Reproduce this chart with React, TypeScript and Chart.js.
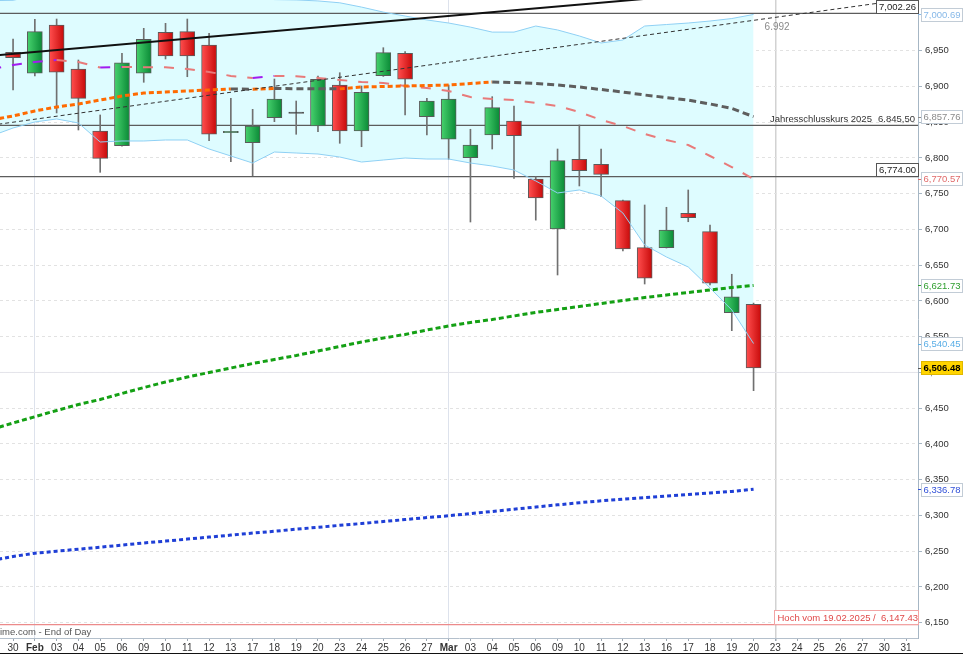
import React, { useEffect, useRef } from 'react';
import { Chart, registerables } from 'chart.js';

Chart.register(...registerables);

const FONT = '"Liberation Sans", Arial, Helvetica, sans-serif';

// ---- axis labels ----
const X_LABELS = ['30', 'Feb', '03', '04', '05', '06', '09', '10', '11', '12', '13', '17', '18', '19', '20', '23', '24', '25', '26', '27', 'Mar', '03', '04', '05', '06', '09', '10', '11', '12', '13', '16', '17', '18', '19', '20', '23', '24', '25', '26', '27', '30', '31'];
const MONTH_STARTS = ['Feb', 'Mar'];
const Y_TICKS = [6150, 6200, 6250, 6300, 6350, 6400, 6450, 6500, 6550, 6600, 6650, 6700, 6750, 6800, 6850, 6900, 6950];

// ---- daily candles (30 Jan .. 20 Mar) ----
const OPEN = [6947.8, 6918.4, 6985.9, 6924.4, 6837.7, 6817.1, 6918.4, 6975.7, 6976.6, 6958.0, 6835.3, 6821.3, 6856.3, 6862.2, 6844.7, 6902.0, 6837.7, 6915.0, 6946.4, 6857.7, 6826.1, 6800.4, 6832.1, 6851.7, 6770.6, 6700.6, 6798.1, 6791.1, 6740.2, 6674.5, 6674.5, 6722.6, 6696.9, 6583.6, 6595.3];
const HIGH = [6966.4, 6993.9, 6994.3, 6937.0, 6860.1, 6946.4, 6981.3, 6988.3, 6994.3, 6974.3, 6883.4, 6868.0, 6910.4, 6879.6, 6914.6, 6919.2, 6900.6, 6954.2, 6948.6, 6883.4, 6902.0, 6840.1, 6885.7, 6872.7, 6773.8, 6812.5, 6846.1, 6812.5, 6741.2, 6734.2, 6731.0, 6755.2, 6706.2, 6637.3, 6597.0];
const LOW = [6895.0, 6914.6, 6862.9, 6839.1, 6779.9, 6816.5, 6905.8, 6938.4, 6913.6, 6824.1, 6794.8, 6775.2, 6850.7, 6833.1, 6836.7, 6820.5, 6815.7, 6914.0, 6860.1, 6832.1, 6798.1, 6710.4, 6812.5, 6771.5, 6713.0, 6636.3, 6760.8, 6745.8, 6670.0, 6623.7, 6674.0, 6710.8, 6622.3, 6558.4, 6474.5];
const CLOSE = [6940.2, 6976.6, 6919.8, 6883.4, 6799.5, 6933.2, 6965.9, 6942.6, 6942.6, 6833.1, 6836.7, 6844.7, 6882.4, 6862.8, 6910.0, 6837.7, 6891.8, 6947.2, 6910.0, 6879.6, 6882.4, 6818.1, 6870.3, 6831.1, 6744.0, 6796.2, 6782.2, 6777.1, 6672.7, 6631.7, 6699.2, 6716.4, 6624.7, 6605.9, 6506.48];

// ---- indicators: first value is the session before 30 Jan (index -1) ----
const IND_START = -1;
const BB_UPPER = [7020, 7020.5, 7027, 7032, 7030, 7033, 7032, 7031, 7030, 7028, 7029, 7028, 7026, 7021.5, 7021, 7019.6, 7017, 7011, 7004, 6998.5, 6993, 6988.7, 6983, 6976, 6976, 6984.5, 6979, 6970.6, 6960.8, 6965, 6984.5, 6986.6, 6988.7, 6991.5, 6995, 7000.69];
const BB_LOWER = [6830.7, 6841.9, 6850.3, 6854.5, 6848.9, 6822.3, 6823.7, 6823.7, 6825.1, 6825.1, 6812.5, 6802.7, 6792.9, 6808.3, 6806.9, 6805.5, 6801.3, 6794.3, 6797.1, 6799.9, 6798.5, 6798.5, 6792.9, 6788.7, 6783.1, 6767.8, 6751.0, 6755.2, 6746.8, 6723.0, 6678.3, 6661.5, 6647.5, 6618.1, 6587.4, 6540.45];
const MA20 = [6924.4, 6930, 6934.2, 6937, 6934.2, 6926.5, 6927.2, 6927.0, 6926.8, 6924.4, 6920.3, 6914.7, 6911.9, 6914.7, 6914.2, 6911.9, 6909.1, 6906.3, 6904.9, 6900.7, 6897.9, 6893.6, 6885.2, 6882.4, 6881, 6876.9, 6872.7, 6864.3, 6853.1, 6844.7, 6833.5, 6825.1, 6818.1, 6802.7, 6787.3, 6770.57];
const MA50 = [6853.1, 6858.7, 6865.7, 6871.3, 6875.5, 6881, 6886.6, 6890.8, 6892.2, 6893.6, 6895, 6896.4, 6896.2, 6897.1, 6896.9, 6896.7, 6896.6, 6899.2, 6899.9, 6900.6, 6901.3, 6902, 6904.1, 6906.2, 6905.5, 6904.1, 6902, 6899.2, 6895.7, 6892.2, 6888, 6884.5, 6881, 6875.5, 6869.2, 6857.76];
const MA100 = [6420.2, 6429.3, 6438.1, 6446.8, 6455.2, 6462.2, 6470.6, 6478.9, 6486.6, 6493.6, 6499.9, 6506.2, 6512.5, 6518.1, 6523.7, 6530, 6536.3, 6542.6, 6548.2, 6553.1, 6559.4, 6565, 6569.9, 6574.1, 6579, 6583.9, 6588.1, 6592.2, 6596.4, 6600.6, 6604.8, 6608.3, 6611.8, 6615.3, 6618.8, 6621.73];
const MA200 = [6237, 6242.6, 6247.1, 6250, 6252.8, 6255.6, 6258.5, 6261.5, 6264.1, 6266.9, 6269.7, 6272.5, 6275.3, 6277.9, 6280.8, 6283.4, 6286.2, 6288.7, 6291.5, 6294.2, 6297, 6299.6, 6302.6, 6305.6, 6308.7, 6311.8, 6314.8, 6317.8, 6320.5, 6322.7, 6324.8, 6327.1, 6329.3, 6331.5, 6333.6, 6336.78];

// ---- trend lines (x = session index) ----
const TREND_SOLID_X = [-1, 30];
const TREND_SOLID_Y = [6942.9, 7025.1];
const TREND_DASH_X = [-1, 39.62];
const TREND_DASH_Y = [6845.8, 7016.0];

// ---- horizontal levels ----
const LEVEL_TOP = 7002.26;
const YEAR_CLOSE = 6845.5;
const LEVEL_MID = 6774.0;
const HIGH_2025 = 6147.43;
const ROUND_LEVEL = 6500;
const YEAR_CLOSE_LABEL = 'Jahresschlusskurs 2025';
const HIGH_LABEL = 'Hoch vom 19.02.2025';
const SOURCE_LABEL = 'ime.com - End of Day';

const X_MIN = -0.6;
const X_MAX = 41.55;
const Y_MIN = 6128.6;
const Y_MAX = 7020.9;

const en2 = (v: number) => v.toLocaleString('en-US', { minimumFractionDigits: 2, maximumFractionDigits: 2 });
const de2 = (v: number) => v.toLocaleString('de-DE', { minimumFractionDigits: 2, maximumFractionDigits: 2 });
const last = (a: number[]) => a[a.length - 1];

const series = (arr: number[]) => arr.map((v, k) => ({ x: k + IND_START, y: v }));
const pairs = (xs: number[], ys: number[]) => xs.map((x, k) => ({ x, y: ys[k] }));
const hline = (v: number) => [{ x: -1, y: v }, { x: 42, y: v }];

const bodyFill = (c: any) => {
  const i = c.dataIndex;
  if (i == null || i >= OPEN.length) return '#888';
  const o = OPEN[i], cl = CLOSE[i];
  const up = cl >= o;
  if (Math.abs(cl - o) < 1) return '#333';
  const sx = c.chart && c.chart.scales ? c.chart.scales.x : null;
  const px = sx ? sx.getPixelForValue(i) : NaN;
  if (!Number.isFinite(px)) return up ? '#22b04c' : '#e2201e';
  const g = c.chart.ctx.createLinearGradient(px - 7, 0, px + 7, 0);
  if (up) {
    g.addColorStop(0, '#45d06c');
    g.addColorStop(1, '#0c8c38');
  } else {
    g.addColorStop(0, '#ff4d4d');
    g.addColorStop(1, '#c90c0c');
  }
  return g;
};

const overlay = {
  id: 'overlay',
  afterDraw(chart: any) {
    const { ctx, chartArea: ca } = chart;
    const ys = chart.scales.y;
    const xs = chart.scales.x;
    const f = (size: number, bold = false) => `${bold ? 'bold ' : ''}${size}px ${FONT}`;
    ctx.save();

    const levelBox = (value: number) => {
      const py = ys.getPixelForValue(value);
      const w = 42, h = 13;
      const x0 = Math.round(ca.right - w) + 0.5;
      const y0 = Math.round(py - h - 0.5) + 0.5;
      ctx.fillStyle = '#fff';
      ctx.fillRect(x0, y0, w, h);
      ctx.strokeStyle = '#555';
      ctx.lineWidth = 1;
      ctx.strokeRect(x0, y0, w, h);
      ctx.fillStyle = '#222';
      ctx.font = f(9.5);
      ctx.textAlign = 'center';
      ctx.textBaseline = 'middle';
      ctx.fillText(en2(value), x0 + w / 2, y0 + h / 2 + 0.5);
    };
    levelBox(LEVEL_TOP);
    levelBox(LEVEL_MID);

    const pyY = ys.getPixelForValue(YEAR_CLOSE);
    ctx.font = f(9.5);
    ctx.fillStyle = '#333';
    ctx.textBaseline = 'alphabetic';
    ctx.textAlign = 'left';
    ctx.fillText(YEAR_CLOSE_LABEL, ca.right - 148, pyY - 3);
    ctx.textAlign = 'right';
    ctx.fillText(de2(YEAR_CLOSE), ca.right - 3, pyY - 3);

    const lastIdx = OPEN.length - 1;
    const t = (lastIdx - TREND_DASH_X[0]) / (TREND_DASH_X[1] - TREND_DASH_X[0]);
    const tv = TREND_DASH_Y[0] + t * (TREND_DASH_Y[1] - TREND_DASH_Y[0]);
    ctx.fillStyle = '#8a8a8a';
    ctx.textAlign = 'left';
    ctx.font = f(10);
    ctx.fillText(Math.round(tv).toLocaleString('de-DE'), xs.getPixelForValue(lastIdx) + 11, ys.getPixelForValue(tv) + 10);

    const pyH = ys.getPixelForValue(HIGH_2025);
    {
      const w = 144, h = 14;
      const x0 = Math.round(ca.right - w) + 0.5;
      const y0 = Math.round(pyH - h - 0.5) + 0.5;
      ctx.fillStyle = '#fff';
      ctx.fillRect(x0, y0, w, h);
      ctx.strokeStyle = '#f2a4a4';
      ctx.strokeRect(x0, y0, w, h);
      ctx.fillStyle = '#e04848';
      ctx.font = f(9.5);
      ctx.textBaseline = 'middle';
      ctx.textAlign = 'left';
      ctx.fillText(`${HIGH_LABEL} /  ${en2(HIGH_2025)}`, x0 + 3, y0 + h / 2 + 0.5);
    }

    ctx.fillStyle = '#555';
    ctx.font = f(9.5);
    ctx.textAlign = 'left';
    ctx.textBaseline = 'alphabetic';
    ctx.fillText(SOURCE_LABEL, 0, ca.bottom - 3);

    const tags = [
      { v: last(BB_UPPER), color: '#86b8e8' },
      { v: last(MA50), color: '#8a8a8a' },
      { v: last(MA20), color: '#e06a6a' },
      { v: last(MA100), color: '#2e9e2e' },
      { v: last(BB_LOWER), color: '#5aaee6' },
      { v: last(MA200), color: '#3050d8' },
      { v: last(CLOSE), color: '#000', bg: '#ffd400', border: '#e0b800', bold: true },
    ];
    for (const tg of tags as any[]) {
      const py = ys.getPixelForValue(tg.v);
      const w = 41, h = 13;
      const x0 = Math.round(ca.right + 3) + 0.5;
      const y0 = Math.round(py - h / 2) + 0.5;
      ctx.fillStyle = tg.bg || '#fff';
      ctx.fillRect(x0, y0, w, h);
      ctx.strokeStyle = tg.border || '#c2ccd6';
      ctx.lineWidth = 1;
      ctx.strokeRect(x0, y0, w, h);
      ctx.strokeStyle = tg.color === '#000' ? '#555' : tg.color;
      ctx.beginPath();
      ctx.moveTo(ca.right, Math.round(py) + 0.5);
      ctx.lineTo(ca.right + 3, Math.round(py) + 0.5);
      ctx.stroke();
      ctx.fillStyle = tg.color;
      ctx.font = f(9.5, !!tg.bold);
      ctx.textAlign = 'left';
      ctx.textBaseline = 'middle';
      ctx.fillText(en2(tg.v), x0 + 2, y0 + h / 2 + 0.5);
    }

    ctx.fillStyle = '#111';
    ctx.fillRect(0, chart.height - 1, chart.width, 1);
    ctx.restore();
  },
};

export default function App() {
  const ref = useRef<HTMLCanvasElement>(null);

  useEffect(() => {
    document.body.style.margin = '0';
    const canvas = ref.current;
    if (!canvas) return;

    const candleX = OPEN.map((_, i) => i);

    const chart = new Chart(canvas, {
      type: 'bar',
      data: {
        datasets: [
          {
            type: 'line', data: series(BB_UPPER), borderColor: '#8fd0f4', borderWidth: 1,
            pointRadius: 0, fill: { target: 1 }, backgroundColor: 'rgba(222,252,255,1)', order: 3,
          } as any,
          {
            type: 'line', data: series(BB_LOWER), borderColor: '#8fd0f4', borderWidth: 1,
            pointRadius: 0, fill: false, order: 3,
          } as any,
          { type: 'line', data: hline(ROUND_LEVEL), borderColor: '#e4e4ea', borderWidth: 1, pointRadius: 0, order: 10 } as any,
          { type: 'line', data: hline(LEVEL_TOP), borderColor: '#5c5c5c', borderWidth: 1.2, pointRadius: 0, order: 9 } as any,
          { type: 'line', data: hline(YEAR_CLOSE), borderColor: '#5c5c5c', borderWidth: 1.2, pointRadius: 0, order: 9 } as any,
          { type: 'line', data: hline(LEVEL_MID), borderColor: '#5c5c5c', borderWidth: 1.2, pointRadius: 0, order: 9 } as any,
          { type: 'line', data: hline(HIGH_2025), borderColor: '#ec8a8a', borderWidth: 1.2, pointRadius: 0, order: 9 } as any,
          {
            type: 'bar', data: candleX.map((i) => ({ x: i, y: [LOW[i], HIGH[i]] })),
            backgroundColor: '#707070', borderWidth: 0, barThickness: 1, grouped: false, order: 8,
          } as any,
          {
            type: 'bar', data: candleX.map((i) => ({ x: i, y: [OPEN[i], CLOSE[i]] })),
            backgroundColor: bodyFill, borderColor: '#5a5a5a', borderWidth: 1, borderSkipped: false,
            barThickness: 15, grouped: false, minBarLength: 1.5, order: 7,
          } as any,
          {
            type: 'line', data: series(MA200), borderColor: '#1f3fd6', borderWidth: 3, borderDash: [4, 3],
            pointRadius: 0, order: 2,
          } as any,
          {
            type: 'line', data: series(MA100), borderColor: '#14a014', borderWidth: 3, borderDash: [5, 3],
            pointRadius: 0, order: 2,
          } as any,
          {
            type: 'line', data: series(MA50), borderColor: '#ff6a00', borderWidth: 3, borderDash: [5, 3],
            pointRadius: 0, order: 1,
            segment: {
              borderColor: (s: any) => (s.p1.parsed.y > s.p0.parsed.y ? '#ff6a00' : '#5e5e5e'),
              borderDash: (s: any) => (s.p1.parsed.y > s.p0.parsed.y ? [5, 3] : [7, 4]),
            },
          } as any,
          {
            type: 'line', data: series(MA20), borderColor: '#e87a7a', borderWidth: 2, borderDash: [10, 11],
            pointRadius: 0, order: 1,
            segment: {
              borderColor: (s: any) => (s.p1.parsed.y > s.p0.parsed.y ? '#a21cf0' : '#e87a7a'),
            },
          } as any,
          {
            type: 'line', data: pairs(TREND_SOLID_X, TREND_SOLID_Y), borderColor: '#111', borderWidth: 2,
            pointRadius: 0, order: 0,
          } as any,
          {
            type: 'line', data: pairs(TREND_DASH_X, TREND_DASH_Y), borderColor: '#333', borderWidth: 1,
            borderDash: [4, 3], pointRadius: 0, order: 0,
          } as any,
        ],
      },
      options: {
        responsive: false,
        animation: false,
        devicePixelRatio: 1,
        events: [],
        layout: { padding: 0 },
        plugins: {
          legend: { display: false },
          tooltip: { enabled: false },
          filler: { drawTime: 'beforeDatasetsDraw' },
        } as any,
        scales: {
          x: {
            type: 'linear',
            min: X_MIN,
            max: X_MAX,
            offset: false,
            afterBuildTicks: (scale: any) => {
              scale.ticks = X_LABELS.map((_, i) => ({ value: i }));
            },
            afterFit: (scale: any) => {
              scale.height = 16;
              scale.paddingLeft = 0;
              scale.paddingRight = 0;
            },
            grid: {
              offset: false,
              drawOnChartArea: true,
              color: (c: any) => {
                const v = c.tick ? c.tick.value : -1;
                if (MONTH_STARTS.includes(X_LABELS[v])) return '#dde2ec';
                if (v === OPEN.length) return '#d2d2d2';
                return 'rgba(0,0,0,0)';
              },
              lineWidth: (c: any) => (c.tick && c.tick.value === OPEN.length ? 1.5 : 1),
              tickColor: '#9aa4ae',
              tickLength: 3,
            },
            border: { display: true, color: '#b4c0cc' },
            ticks: {
              autoSkip: false,
              maxRotation: 0,
              minRotation: 0,
              padding: 1,
              color: '#333',
              font: (c: any) => ({
                family: FONT,
                size: 10,
                weight: c.tick && MONTH_STARTS.includes(X_LABELS[c.tick.value]) ? 'bold' : 'normal',
              }),
              callback: (v: any) => X_LABELS[v] ?? '',
            },
          },
          y: {
            type: 'linear',
            position: 'right',
            min: Y_MIN,
            max: Y_MAX,
            afterBuildTicks: (scale: any) => {
              scale.ticks = Y_TICKS.map((v) => ({ value: v }));
            },
            afterFit: (scale: any) => {
              scale.width = 45;
              scale.paddingTop = 0;
              scale.paddingBottom = 0;
            },
            grid: { color: '#e2e2e2', tickColor: '#a6b6c4', tickLength: 4 },
            border: { display: true, color: '#a6b6c4', dash: [3, 3] },
            ticks: {
              padding: 3,
              color: '#333',
              font: { family: FONT, size: 9.5 },
              callback: (v: any) => Number(v).toLocaleString('en-US'),
            },
          },
        },
      } as any,
      plugins: [overlay],
    });

    return () => chart.destroy();
  }, []);

  return (
    <div style={{ width: 963, height: 654 }}>
      <canvas ref={ref} width={963} height={654} style={{ display: 'block', width: 963, height: 654 }} />
    </div>
  );
}
